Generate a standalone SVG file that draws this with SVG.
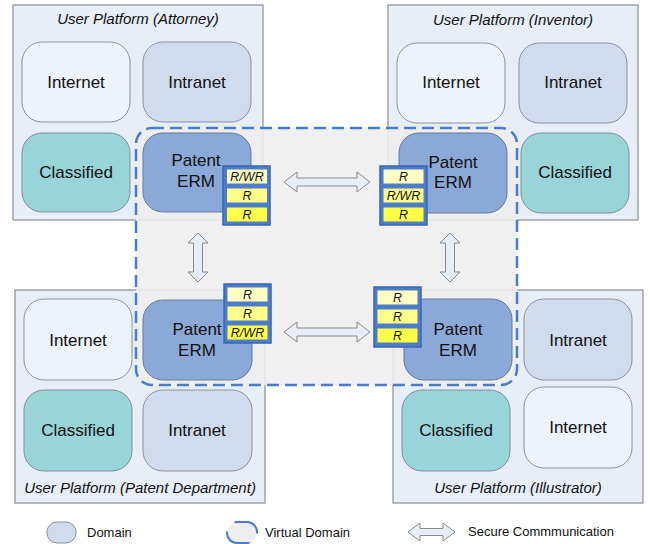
<svg xmlns="http://www.w3.org/2000/svg" width="650" height="544" viewBox="0 0 650 544">
<style>
text{font-family:"Liberation Sans",Arial,sans-serif;fill:#111;text-anchor:middle}
.plat{fill:#e8eef8;stroke:#8a8e94;stroke-width:1.2}
.title{font-size:15px;font-style:italic}
.lbl{font-size:17px}
.inet{fill:#eef2fa;stroke:#8e9298;stroke-width:1}
.intra{fill:#d0dbee;stroke:#8e9298;stroke-width:1}
.cls{fill:#99d4d8;stroke:#7f9296;stroke-width:1}
.erm{fill:#8aa8d8;stroke:#6a7a94;stroke-width:1}
.vd{fill:#eeeeee;fill-opacity:0.88;stroke:#4a7bcc;stroke-width:2.5;stroke-dasharray:12 6}
.badge{fill:#4d7cc9;stroke:#3a66b4;stroke-width:1.5}
.c1{fill:#ffffc4}.c2{fill:#ffff8a}.c3{fill:#ffff48}
.bt{font-size:12.5px;font-style:italic}
.arr{fill:#e6eef8;stroke:#8a8a8a;stroke-width:1}
.leg{font-size:13px;text-anchor:start}
</style>

<!-- platforms -->
<g id="platform-attorney">
<rect class="plat" x="13" y="5" width="250" height="215"/>
<text class="title" x="138" y="24">User Platform (Attorney)</text>
</g>
<g id="platform-inventor">
<rect class="plat" x="388" y="5" width="250" height="215"/>
<text class="title" x="513" y="25">User Platform (Inventor)</text>
</g>
<g id="platform-patent-dept">
<rect class="plat" x="15" y="290" width="250" height="213"/>
<text class="title" x="140" y="493">User Platform (Patent Department)</text>
</g>
<g id="platform-illustrator">
<rect class="plat" x="393" y="290" width="250" height="213"/>
<text class="title" x="518" y="493">User Platform (Illustrator)</text>
</g>

<!-- attorney nodes -->
<g id="att-internet"><rect class="inet" x="22" y="42" width="108" height="80" rx="20"/><text class="lbl" x="76" y="88">Internet</text></g>
<g id="att-intranet"><rect class="intra" x="143" y="42" width="108" height="80" rx="20"/><text class="lbl" x="197" y="88">Intranet</text></g>
<g id="att-classified"><rect class="cls" x="22" y="133" width="108" height="79" rx="20"/><text class="lbl" x="76" y="178">Classified</text></g>

<!-- inventor nodes -->
<g id="inv-internet"><rect class="inet" x="397" y="43" width="108" height="80" rx="20"/><text class="lbl" x="451" y="88">Internet</text></g>
<g id="inv-intranet"><rect class="intra" x="519" y="43" width="108" height="80" rx="20"/><text class="lbl" x="573" y="88">Intranet</text></g>
<g id="inv-classified"><rect class="cls" x="521" y="133" width="108" height="80" rx="20"/><text class="lbl" x="575" y="178">Classified</text></g>

<!-- patent dept nodes -->
<g id="pd-internet"><rect class="inet" x="24" y="299" width="108" height="81" rx="20"/><text class="lbl" x="78" y="346">Internet</text></g>
<g id="pd-classified"><rect class="cls" x="24" y="390" width="108" height="81" rx="20"/><text class="lbl" x="78" y="436">Classified</text></g>
<g id="pd-intranet"><rect class="intra" x="143" y="390" width="109" height="81" rx="20"/><text class="lbl" x="197" y="436">Intranet</text></g>

<!-- illustrator nodes -->
<g id="ill-intranet"><rect class="intra" x="524" y="299" width="108" height="81" rx="20"/><text class="lbl" x="578" y="346">Intranet</text></g>
<g id="ill-classified"><rect class="cls" x="402" y="390" width="108" height="81" rx="20"/><text class="lbl" x="456" y="436">Classified</text></g>
<g id="ill-internet"><rect class="inet" x="524" y="387" width="108" height="81" rx="20"/><text class="lbl" x="578" y="433">Internet</text></g>

<!-- virtual domain -->
<g id="virtual-domain">
<rect class="vd" x="136" y="128" width="381" height="257" rx="16"/>
</g>

<!-- ERM nodes -->
<g id="att-erm"><rect class="erm" x="143" y="133" width="108" height="79" rx="20"/><text class="lbl" x="196" y="166">Patent</text><text class="lbl" x="196" y="187">ERM</text></g>
<g id="inv-erm"><rect class="erm" x="399" y="133" width="108" height="80" rx="20"/><text class="lbl" x="453" y="168">Patent</text><text class="lbl" x="453" y="188">ERM</text></g>
<g id="pd-erm"><rect class="erm" x="143" y="300" width="109" height="80" rx="20"/><text class="lbl" x="197" y="335">Patent</text><text class="lbl" x="197" y="356">ERM</text></g>
<g id="ill-erm"><rect class="erm" x="404" y="299" width="108" height="81" rx="20"/><text class="lbl" x="458" y="335">Patent</text><text class="lbl" x="458" y="356">ERM</text></g>

<!-- badges -->
<g id="att-badge">
<rect class="badge" x="223" y="166" width="47" height="59"/>
<rect class="c1" x="227" y="169.5" width="40" height="14"/><rect class="c2" x="227" y="188.5" width="40" height="14"/><rect class="c3" x="227" y="207.5" width="40" height="14"/>
<text class="bt" x="247" y="181">R/WR</text><text class="bt" x="247" y="200">R</text><text class="bt" x="247" y="219">R</text>
</g>
<g id="inv-badge">
<rect class="badge" x="380" y="166" width="47" height="59"/>
<rect class="c1" x="383.5" y="169.5" width="40" height="14"/><rect class="c2" x="383.5" y="188.5" width="40" height="14"/><rect class="c3" x="383.5" y="207.5" width="40" height="14"/>
<text class="bt" x="403.5" y="181">R</text><text class="bt" x="403.5" y="200">R/WR</text><text class="bt" x="403.5" y="219">R</text>
</g>
<g id="pd-badge">
<rect class="badge" x="224" y="284" width="47" height="59"/>
<rect class="c1" x="227.5" y="287.5" width="40" height="14"/><rect class="c2" x="227.5" y="306.5" width="40" height="14"/><rect class="c3" x="227.5" y="325.5" width="40" height="14"/>
<text class="bt" x="247.5" y="299">R</text><text class="bt" x="247.5" y="318">R</text><text class="bt" x="247.5" y="337">R/WR</text>
</g>
<g id="ill-badge">
<rect class="badge" x="374" y="287" width="47" height="60"/>
<rect class="c1" x="377.5" y="290.5" width="40" height="14"/><rect class="c2" x="377.5" y="309.5" width="40" height="14"/><rect class="c3" x="377.5" y="328.5" width="40" height="14"/>
<text class="bt" x="397.5" y="302">R</text><text class="bt" x="397.5" y="321">R</text><text class="bt" x="397.5" y="340">R</text>
</g>

<!-- connectors -->
<g id="connectors">
<path class="arr" d="M284,182 L297,172 L297,178 L357,178 L357,172 L370,182 L357,192 L357,186 L297,186 L297,192 Z"/>
<path class="arr" d="M284,332 L297,322 L297,328 L357,328 L357,322 L370,332 L357,342 L357,336 L297,336 L297,342 Z"/>
<path class="arr" d="M198,233 L208,243 L202.5,243 L202.5,272 L208,272 L198,282 L188,272 L193.5,272 L193.5,243 L188,243 Z"/>
<path class="arr" d="M450,233 L460,243 L454.5,243 L454.5,272 L460,272 L450,282 L440,272 L445.5,272 L445.5,243 L440,243 Z"/>
</g>

<!-- legend -->
<g id="legend">
<rect x="47" y="522" width="29" height="21" rx="10" fill="#d0dbee" stroke="#8e9298" stroke-width="1"/>
<text class="leg" x="87" y="537">Domain</text>
<rect x="227" y="522" width="30" height="21" rx="10" fill="#eeeeee" stroke="none"/>
<rect x="227" y="522" width="30" height="21" rx="10" fill="none" stroke="#4a7bcc" stroke-width="2" stroke-dasharray="30 12.4" stroke-dashoffset="3"/>
<text class="leg" x="265" y="537">Virtual Domain</text>
<path class="arr" d="M408,532 L420,523 L420,528.5 L443,528.5 L443,523 L455,532 L443,541 L443,535.5 L420,535.5 L420,541 Z"/>
<text class="leg" x="468" y="536">Secure Commmunication</text>
</g>
</svg>
